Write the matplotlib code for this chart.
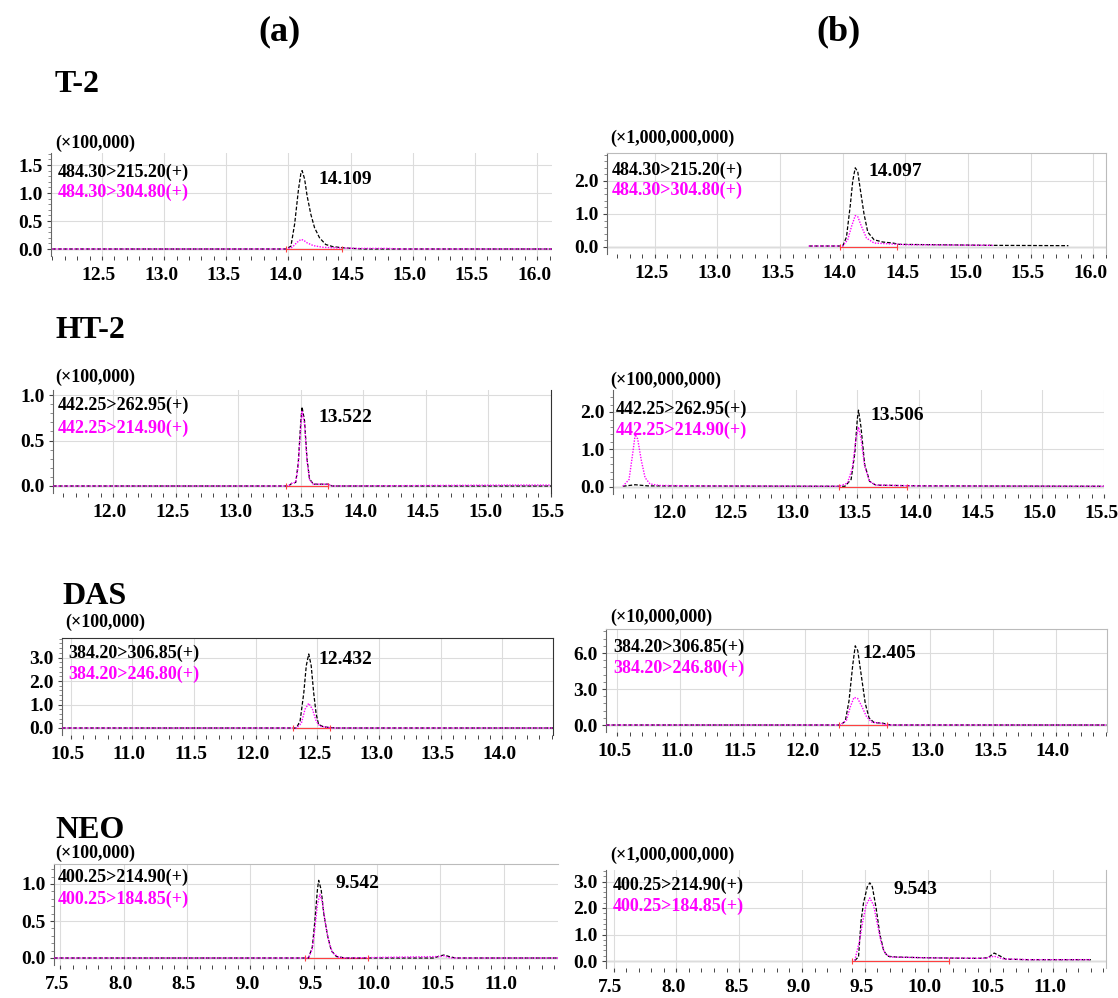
import numpy as np
import matplotlib
matplotlib.use('Agg')
import matplotlib.pyplot as plt
import matplotlib.transforms as mtrans

plt.rcParams['font.family'] = ['Liberation Serif', 'DejaVu Serif']
plt.rcParams['font.weight'] = 'bold'

W, H = 1118, 998
MAGENTA = '#ff00ff'

# ---- T-2 (a)
t2a_k_t = [12.10, 13.98, 14.02, 14.05, 14.08, 14.10, 14.11, 14.13, 14.15, 14.18, 14.21, 14.25, 14.30, 14.36, 14.45, 14.60, 16.12]
t2a_k_y = [0.00, 0.00, 0.05, 0.45, 1.05, 1.35, 1.40, 1.25, 0.95, 0.62, 0.38, 0.20, 0.08, 0.04, 0.02, 0.00, 0.00]
t2a_m_t = [12.10, 13.98, 14.03, 14.07, 14.10, 14.12, 14.15, 14.20, 14.28, 14.40, 14.55, 14.80, 14.90, 16.12]
t2a_m_y = [0.00, 0.00, 0.03, 0.12, 0.17, 0.16, 0.11, 0.06, 0.03, 0.02, 0.01, 0.01, 0.00, 0.00]
t2a_red = [13.98, 14.43]

# ---- T-2 (b)
t2b_k_t = [13.73, 14.00, 14.03, 14.06, 14.08, 14.10, 14.12, 14.14, 14.17, 14.20, 14.25, 14.32, 14.40, 14.45, 15.20, 15.80]
t2b_k_y = [0.03, 0.03, 0.30, 1.25, 2.00, 2.40, 2.28, 1.75, 1.00, 0.45, 0.22, 0.15, 0.12, 0.08, 0.05, 0.04]
t2b_m_t = [13.73, 14.00, 14.04, 14.07, 14.10, 14.12, 14.15, 14.19, 14.25, 14.35, 14.50, 15.20]
t2b_m_y = [0.03, 0.03, 0.22, 0.62, 0.95, 0.92, 0.62, 0.27, 0.12, 0.10, 0.07, 0.05]
t2b_red = [13.98, 14.43]

# ---- HT-2 (a)
ht2a_k_t = [11.52, 13.40, 13.43, 13.46, 13.48, 13.50, 13.51, 13.53, 13.55, 13.57, 13.60, 13.72, 13.75, 15.50]
ht2a_k_y = [0.00, 0.00, 0.03, 0.04, 0.25, 0.70, 0.87, 0.72, 0.30, 0.08, 0.02, 0.02, 0.00, 0.00]
ht2a_m_t = [11.52, 13.40, 13.43, 13.46, 13.48, 13.50, 13.51, 13.53, 13.55, 13.57, 13.60, 13.72, 13.75, 15.25, 15.50]
ht2a_m_y = [0.00, 0.00, 0.03, 0.04, 0.22, 0.65, 0.82, 0.68, 0.28, 0.07, 0.02, 0.02, 0.00, 0.01, 0.01]
ht2a_red = [13.38, 13.72]

# ---- HT-2 (b)
ht2b_k_t = [11.60, 11.70, 11.80, 13.40, 13.45, 13.48, 13.50, 13.51, 13.53, 13.56, 13.60, 13.65, 14.00, 15.50]
ht2b_k_y = [0.02, 0.06, 0.03, 0.02, 0.20, 0.90, 1.80, 2.05, 1.60, 0.60, 0.15, 0.05, 0.03, 0.02]
ht2b_m_t = [11.60, 11.65, 11.68, 11.70, 11.72, 11.75, 11.78, 11.82, 11.90, 12.25, 13.35, 13.42, 13.46, 13.49, 13.51, 13.53, 13.56, 13.60, 13.65, 14.00, 15.50]
ht2b_m_y = [0.02, 0.20, 0.90, 1.40, 1.28, 0.70, 0.25, 0.08, 0.04, 0.03, 0.02, 0.10, 0.50, 1.30, 1.60, 1.30, 0.55, 0.15, 0.05, 0.03, 0.02]
ht2b_red = [13.35, 13.90]

# ---- DAS (a)
dasa_k_t = [10.43, 12.33, 12.36, 12.39, 12.41, 12.43, 12.45, 12.47, 12.49, 12.51, 12.55, 12.60, 12.65, 14.41]
dasa_k_y = [0.00, 0.00, 0.30, 1.50, 2.65, 3.15, 2.65, 1.50, 0.60, 0.15, 0.05, 0.02, 0.00, 0.00]
dasa_m_t = [10.43, 12.33, 12.37, 12.40, 12.43, 12.46, 12.49, 12.52, 12.58, 12.62, 14.41]
dasa_m_y = [0.00, 0.00, 0.20, 0.80, 1.05, 0.80, 0.30, 0.08, 0.03, 0.00, 0.00]
dasa_red = [12.30, 12.60]

# ---- DAS (b)
dasb_k_t = [10.41, 12.28, 12.32, 12.35, 12.38, 12.40, 12.42, 12.45, 12.48, 12.51, 12.55, 12.62, 12.68, 14.41]
dasb_k_y = [0.00, 0.00, 0.30, 2.00, 5.00, 6.60, 6.20, 4.00, 1.80, 0.60, 0.20, 0.15, 0.00, 0.00]
dasb_m_t = [10.41, 12.28, 12.33, 12.36, 12.39, 12.42, 12.45, 12.49, 12.53, 12.60, 12.65, 14.41]
dasb_m_y = [0.00, 0.00, 0.40, 1.50, 2.30, 2.20, 1.60, 0.70, 0.25, 0.15, 0.00, 0.00]
dasb_red = [12.27, 12.65]

# ---- NEO (a)
neoa_k_t = [7.45, 9.46, 9.49, 9.51, 9.53, 9.54, 9.56, 9.58, 9.61, 9.64, 9.68, 9.75, 10.45, 10.50, 10.53, 10.57, 10.62, 11.43]
neoa_k_y = [0.00, 0.00, 0.15, 0.50, 0.92, 1.05, 0.92, 0.60, 0.30, 0.10, 0.02, 0.00, 0.00, 0.03, 0.04, 0.02, 0.00, 0.00]
neoa_m_t = [7.45, 9.46, 9.49, 9.51, 9.53, 9.55, 9.57, 9.59, 9.62, 9.65, 9.70, 9.75, 10.50, 10.53, 10.58, 11.43]
neoa_m_y = [0.00, 0.00, 0.12, 0.40, 0.72, 0.86, 0.75, 0.50, 0.22, 0.07, 0.01, 0.00, 0.02, 0.03, 0.00, 0.00]
neoa_red = [9.43, 9.93]

# ---- NEO (b)
neob_k_t = [9.42, 9.45, 9.47, 9.49, 9.52, 9.54, 9.56, 9.59, 9.62, 9.65, 9.68, 9.75, 10.00, 10.40, 10.48, 10.53, 10.58, 10.62, 10.80, 11.30]
neob_k_y = [0.02, 0.15, 1.50, 2.20, 2.80, 2.95, 2.80, 2.00, 1.00, 0.40, 0.18, 0.15, 0.12, 0.10, 0.12, 0.30, 0.18, 0.07, 0.05, 0.05]
neob_m_t = [9.42, 9.46, 9.48, 9.51, 9.54, 9.57, 9.60, 9.63, 9.66, 9.70, 10.00, 10.45, 10.53, 10.60, 10.80, 11.30]
neob_m_y = [0.02, 0.80, 1.40, 2.10, 2.38, 2.10, 1.40, 0.70, 0.30, 0.15, 0.12, 0.10, 0.18, 0.08, 0.05, 0.05]
neob_red = [9.40, 10.17]

compounds = ['T-2', 'HT-2', 'DAS', 'NEO']
trans_k = ['484.30>215.20(+)', '442.25>262.95(+)', '384.20>306.85(+)', '400.25>214.90(+)']
trans_m = ['484.30>304.80(+)', '442.25>214.90(+)', '384.20>246.80(+)', '400.25>184.85(+)']
peak_rt_a = ['14.109', '13.522', '12.432', '9.542']
peak_rt_b = ['14.097', '13.506', '12.405', '9.543']
scale_a = ['(×100,000)', '(×100,000)', '(×100,000)', '(×100,000)']
scale_b = ['(×1,000,000,000)', '(×100,000,000)', '(×10,000,000)', '(×1,000,000,000)']
xticks_rows = [[12.5, 13.0, 13.5, 14.0, 14.5, 15.0, 15.5, 16.0],
               [12.0, 12.5, 13.0, 13.5, 14.0, 14.5, 15.0, 15.5],
               [10.5, 11.0, 11.5, 12.0, 12.5, 13.0, 13.5, 14.0],
               [7.5, 8.0, 8.5, 9.0, 9.5, 10.0, 10.5, 11.0]]
yticks_a = [[0, 0.5, 1.0, 1.5], [0, 0.5, 1.0], [0, 1, 2, 3], [0, 0.5, 1.0]]
yticks_b = [[0, 1, 2], [0, 1, 2], [0, 3, 6], [0, 1, 2, 3]]

traces_a = [(t2a_k_t, t2a_k_y, t2a_m_t, t2a_m_y, t2a_red),
            (ht2a_k_t, ht2a_k_y, ht2a_m_t, ht2a_m_y, ht2a_red),
            (dasa_k_t, dasa_k_y, dasa_m_t, dasa_m_y, dasa_red),
            (neoa_k_t, neoa_k_y, neoa_m_t, neoa_m_y, neoa_red)]
traces_b = [(t2b_k_t, t2b_k_y, t2b_m_t, t2b_m_y, t2b_red),
            (ht2b_k_t, ht2b_k_y, ht2b_m_t, ht2b_m_y, ht2b_red),
            (dasb_k_t, dasb_k_y, dasb_m_t, dasb_m_y, dasb_red),
            (neob_k_t, neob_k_y, neob_m_t, neob_m_y, neob_red)]

# layout in pixels: left, right, top, baseline, px per unit, xlim, (top spine, right spine)
lay_a = [(51, 552, 153, 249, 56.0, (12.09, 16.12), (False, False)),
         (53, 551, 390, 486, 91.0, (11.52, 15.50), (False, True)),
         (62, 553, 638, 728, 23.5, (10.43, 14.41), (True, True)),
         (54, 558, 864, 958, 74.0, (7.45, 11.43), (True, False))]
lay_b = [(607, 1106, 153, 247, 33.0, (12.12, 16.10), (True, True)),
         (613, 1104, 390, 487, 37.5, (11.52, 15.50), (False, False)),
         (606, 1107, 629, 725, 12.0, (10.41, 14.41), (True, True)),
         (606, 1106, 870, 961, 26.5, (7.44, 11.42), (False, True))]
# text positions (pixels): scale x,y / transition x, black y, magenta y / peak label x,y
txt_a = [(55, 143, 58, 172, 192, 318, 180),
         (55, 377, 58, 405, 428, 318, 417),
         (65, 622, 68, 653, 674, 318, 660),
         (55, 853, 58, 877, 899, 335, 883)]
txt_b = [(610, 138, 612, 170, 190, 868, 172),
         (610, 380, 616, 409, 430, 870, 415),
         (610, 617, 613, 647, 668, 862, 653),
         (610, 855, 613, 885, 906, 893, 890)]
title_y = [85, 330, 597, 830]
title_x = [55, 55, 62, 55]


def fx(x):
    return x / W


def fy(y):
    return 1 - y / H


def panel(fig, lay, tr, xt, yt, frame_dark):
    l, r, t, p0, k, xl, (sp_top, sp_right) = lay
    pb = p0 + 7
    ax = fig.add_axes([fx(l), fy(pb), (r - l) / W, (pb - t) / H])
    ax.set_xlim(*xl)
    ax.set_ylim(-7 / k, (p0 - t) / k)
    kt, ky, mt, my, red = tr
    ax.axhline(0, color='#8c8c8c', lw=0.9, zorder=1)
    ax.plot(kt, ky, color='black', lw=0.9, ls=(0, (3, 1.5)), zorder=3)
    ax.plot(mt, my, color=MAGENTA, lw=1.0, ls=(0, (1, 1)), zorder=4)
    ax.plot(red, [0, 0], color='#ff4040', lw=0.8, zorder=2)
    ax.plot(red, [0, 0], ls='none', marker='|', ms=5, color='#ff4040', mew=0.8, zorder=5)
    ax.set_xticks(xt)
    ax.set_xticklabels(['%.1f' % v for v in xt])
    ax.set_xticks(np.arange(np.ceil(xl[0] * 10) / 10, xl[1], 0.1), minor=True)
    ax.set_yticks(yt)
    ax.set_yticklabels(['%.1f' % v for v in yt])
    step = (yt[1] - yt[0]) / 5
    ax.set_yticks(np.arange(0, (p0 - t) / k, step), minor=True)
    ax.grid(True, which='major', color='#dcdcdc', lw=0.8, zorder=0)
    ax.tick_params(axis='both', which='major', labelsize=14, length=3, width=0.8,
                   color='#444444')
    ax.tick_params(axis='x', which='major', pad=5)
    ax.tick_params(axis='y', which='major', pad=3)
    ax.tick_params(axis='x', which='minor', length=3, width=0.7, color='#444444')
    ax.tick_params(axis='y', which='minor', length=2, width=0.6, color='#777777')
    shift = mtrans.ScaledTranslation(-3 / 100, 0, fig.dpi_scale_trans)
    for lab in ax.get_xticklabels():
        lab.set_fontweight('bold')
        lab.set_transform(lab.get_transform() + shift)
    for lab in ax.get_yticklabels():
        lab.set_fontweight('bold')
    ax.spines['bottom'].set_visible(False)
    ax.spines['left'].set_color('#666666')
    ax.spines['left'].set_linewidth(0.8)
    edge = '#333333' if frame_dark else '#bbbbbb'
    ax.spines['top'].set_visible(sp_top)
    ax.spines['right'].set_visible(sp_right)
    ax.spines['top'].set_color(edge)
    ax.spines['right'].set_color(edge)
    return ax


def main():
    fig = plt.figure(figsize=(W / 100, H / 100), dpi=100)
    fig.text(fx(280), fy(32), '(a)', ha='center', va='center', fontsize=26, fontweight='bold')
    fig.text(fx(838), fy(32), '(b)', ha='center', va='center', fontsize=26, fontweight='bold')

    for i in range(4):
        fig.text(fx(title_x[i]), fy(title_y[i]), compounds[i], ha='left', va='center',
                 fontsize=23, fontweight='bold')
        for lay, tr, yt, txt, sc, rt, dark in [
                (lay_a[i], traces_a[i], yticks_a[i], txt_a[i], scale_a[i], peak_rt_a[i], i in (1, 2)),
                (lay_b[i], traces_b[i], yticks_b[i], txt_b[i], scale_b[i], peak_rt_b[i], False)]:
            panel(fig, lay, tr, xticks_rows[i], yt, dark)
            sx, sy, lx, ky_, my_, px, py = txt
            fig.text(fx(sx), fy(sy), sc, ha='left', va='center', fontsize=13, fontweight='bold')
            fig.text(fx(lx), fy(ky_), trans_k[i], ha='left', va='center', fontsize=13,
                     fontweight='bold', color='black')
            fig.text(fx(lx), fy(my_), trans_m[i], ha='left', va='center', fontsize=13,
                     fontweight='bold', color=MAGENTA)
            fig.text(fx(px), fy(py), rt, ha='left', va='center', fontsize=14, fontweight='bold')

    fig.savefig('out.png', dpi=100)


if __name__ == '__main__':
    main()
